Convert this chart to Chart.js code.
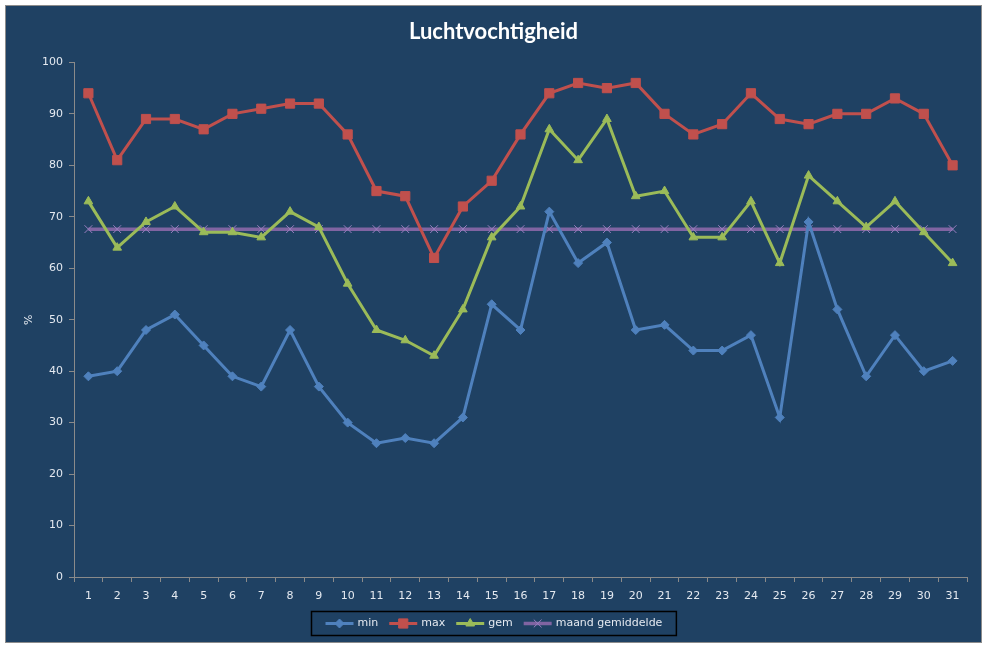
<!DOCTYPE html>
<html>
<head>
<meta charset="utf-8">
<title>Luchtvochtigheid</title>
<script src="https://cdn.jsdelivr.net/npm/chart.js@4.4.1/dist/chart.umd.min.js"></script>
<style>
  body { margin: 0; background: #ffffff; }
  #wrap {
    position: absolute; left: 5px; top: 5px;
    width: 975px; height: 636px;
    border: 1px solid #8c8c8c;
    background: #1f4163;
  }
</style>
</head>
<body>
<div id="wrap"><canvas id="myChart"></canvas></div>
<script>
/* Data */
var days = ["1","2","3","4","5","6","7","8","9","10","11","12","13","14","15","16",
            "17","18","19","20","21","22","23","24","25","26","27","28","29","30","31"];
var minValues = [39,40,48,51,45,39,37,48,37,30,26,27,26,31,53,48,71,61,65,48,49,44,44,47,31,69,52,39,47,40,42];
var maxValues = [94,81,89,89,87,90,91,92,92,86,75,74,62,72,77,86,94,96,95,96,90,86,88,94,89,88,90,90,93,90,80];
var gemValues = [73,64,69,72,67,67,66,71,68,57,48,46,43,52,66,72,87,81,89,74,75,66,66,73,61,78,73,68,73,67,61];
var maandValues = [67.6,67.6,67.6,67.6,67.6,67.6,67.6,67.6,67.6,67.6,67.6,67.6,67.6,67.6,67.6,67.6,
                   67.6,67.6,67.6,67.6,67.6,67.6,67.6,67.6,67.6,67.6,67.6,67.6,67.6,67.6,67.6];

var axisColor = "#8a8a8a";
var textColor = "#e4e9f0";
var tickFont = { family: "DejaVu Sans", size: 11 };

/* Excel style legend: line with marker, in a black box */
var lineLegend = {
  id: "lineLegend",
  afterDraw: function (chart) {
    var ctx = chart.ctx;
    var sets = chart.data.datasets;
    var lineLen = 28, textGap = 4, itemGap = 11, padX = 14;
    ctx.save();
    ctx.font = "11px 'DejaVu Sans'";
    var total = padX * 2;
    for (var i = 0; i < sets.length; i++) {
      total += lineLen + textGap + ctx.measureText(sets[i].label).width;
      if (i < sets.length - 1) total += itemGap;
    }
    var boxTop = chart.height - 31, boxH = 24;
    var x = Math.round(chart.width / 2 - total / 2) + 0.5;
    ctx.strokeStyle = "#000000";
    ctx.lineWidth = 1.5;
    ctx.strokeRect(x, boxTop + 0.5, total, boxH);
    var cy = boxTop + boxH / 2 + 0.5;
    x += padX;
    for (var j = 0; j < sets.length; j++) {
      var ds = sets[j];
      ctx.strokeStyle = ds.borderColor;
      ctx.lineWidth = ds.borderWidth;
      ctx.beginPath();
      ctx.moveTo(x, cy);
      ctx.lineTo(x + lineLen, cy);
      ctx.stroke();
      ctx.fillStyle = ds.pointBackgroundColor;
      ctx.strokeStyle = ds.pointBorderColor;
      ctx.lineWidth = ds.pointBorderWidth;
      Chart.helpers.drawPoint(ctx, { pointStyle: ds.pointStyle, radius: ds.pointRadius, borderWidth: ds.pointBorderWidth, rotation: 0 }, x + lineLen / 2, cy);
      x += lineLen + textGap;
      ctx.fillStyle = textColor;
      ctx.textBaseline = "middle";
      ctx.textAlign = "left";
      ctx.fillText(ds.label, x, cy);
      x += ctx.measureText(ds.label).width + itemGap;
    }
    ctx.restore();
  }
};

new Chart("myChart", {
  type: "line",
  data: {
    labels: days,
    datasets: [{
      label: "min",
      data: minValues,
      borderColor: "#4f81bd",
      borderWidth: 3,
      pointStyle: "rectRot",
      pointRadius: 4.5,
      pointBackgroundColor: "#4f81bd",
      pointBorderColor: "#4f81bd",
      pointBorderWidth: 1
    }, {
      label: "max",
      data: maxValues,
      borderColor: "#c0504d",
      borderWidth: 3,
      pointStyle: "rect",
      pointRadius: 6.5,
      pointBackgroundColor: "#c0504d",
      pointBorderColor: "#c0504d",
      pointBorderWidth: 1
    }, {
      label: "gem",
      data: gemValues,
      borderColor: "#9bbb59",
      borderWidth: 3,
      pointStyle: "triangle",
      pointRadius: 5,
      pointBackgroundColor: "#9bbb59",
      pointBorderColor: "#9bbb59",
      pointBorderWidth: 1
    }, {
      label: "maand gemiddelde",
      data: maandValues,
      borderColor: "#8064a2",
      borderWidth: 3.5,
      pointStyle: "crossRot",
      pointRadius: 5.5,
      pointBackgroundColor: "#8064a2",
      pointBorderColor: "#9a7fc0",
      pointBorderWidth: 1
    }]
  },
  options: {
    responsive: true,
    maintainAspectRatio: false,
    animation: false,
    layout: { padding: { left: 14, right: 14, top: 0, bottom: 35 } },
    elements: { line: { tension: 0 } },
    plugins: {
      legend: { display: false },
      tooltip: { enabled: false },
      title: {
        display: true,
        text: "Luchtvochtigheid",
        color: "#ffffff",
        font: { family: "Lato", size: 22, weight: "bold", lineHeight: 1.2 },
        padding: { top: 13, bottom: 17 }
      }
    },
    scales: {
      x: {
        offset: true,
        grid: { display: true, drawOnChartArea: false, drawTicks: true, tickLength: 5, color: axisColor, offset: true },
        border: { color: axisColor, width: 1 },
        ticks: { color: textColor, font: tickFont, padding: 8, maxRotation: 0, autoSkip: false },
        afterFit: function (scale) { scale.height = 30; }
      },
      y: {
        min: 0,
        max: 100,
        grid: { display: true, drawOnChartArea: false, drawTicks: true, tickLength: 5, color: axisColor },
        border: { color: axisColor, width: 1 },
        ticks: { stepSize: 10, color: textColor, font: tickFont, padding: 6 },
        title: {
          display: true,
          text: "%",
          color: textColor,
          font: { family: "DejaVu Sans", size: 11 },
          padding: { top: 3, bottom: 0 }
        },
        afterFit: function (scale) { scale.width = 54; }
      }
    }
  },
  plugins: [lineLegend]
});
</script>
</body>
</html>
